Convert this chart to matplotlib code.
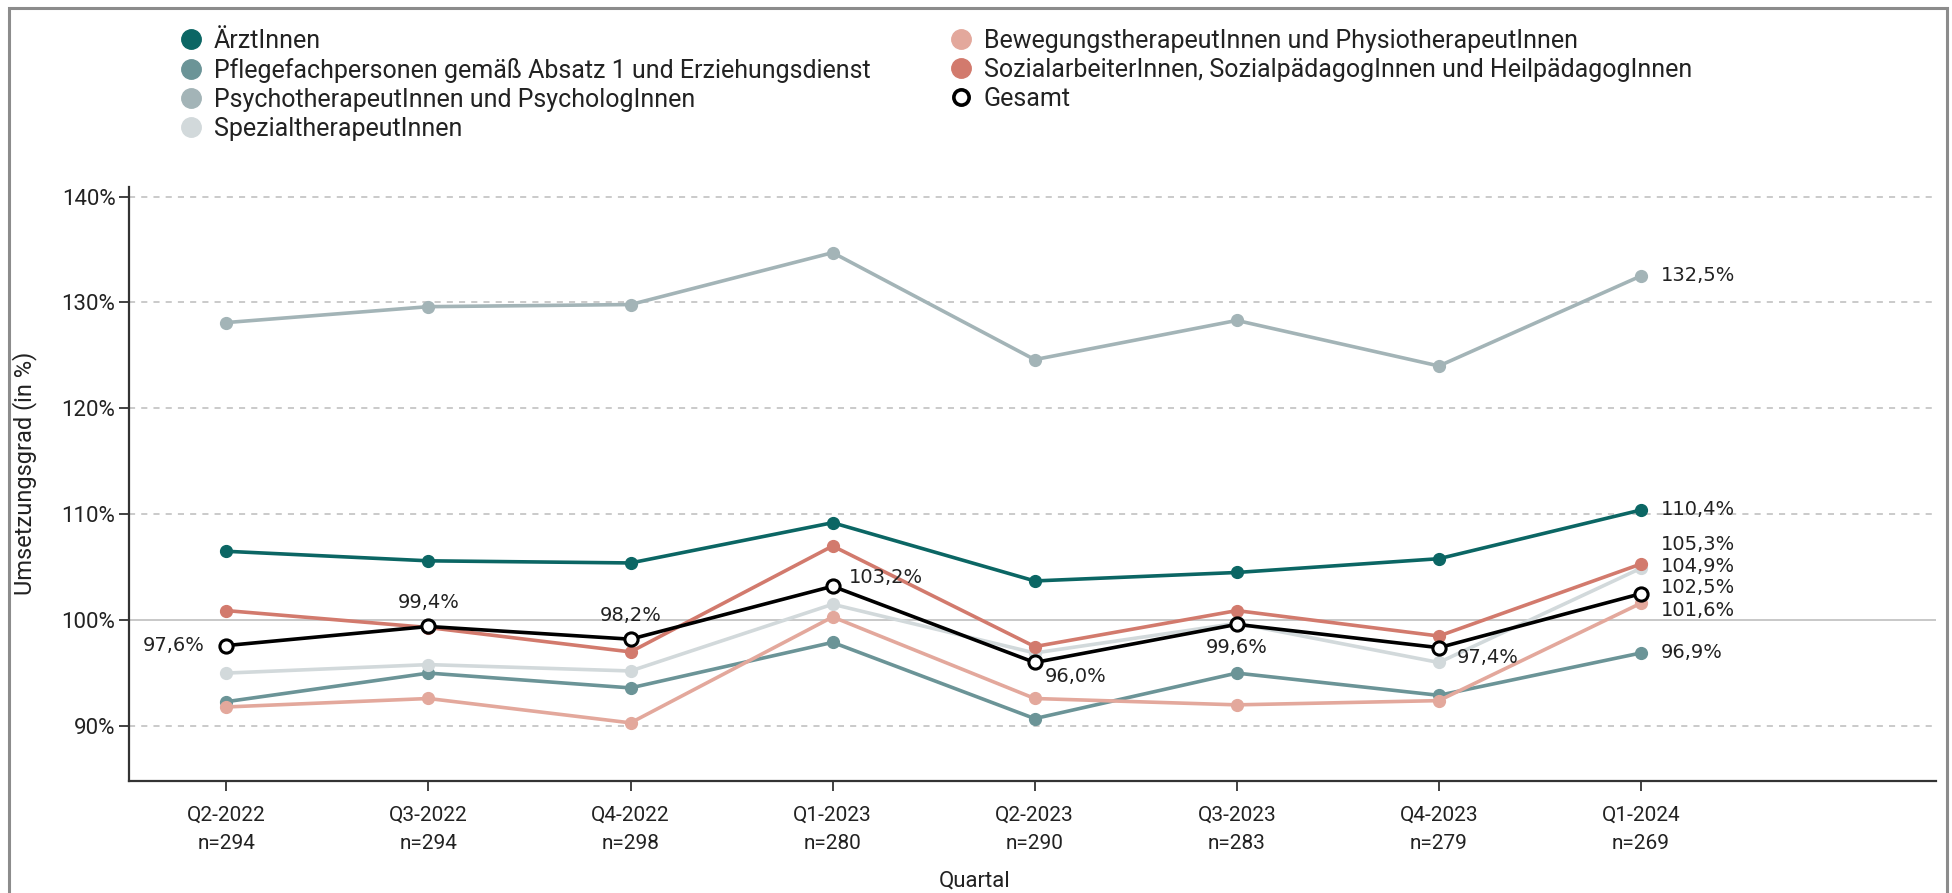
import matplotlib
matplotlib.use("Agg")
import matplotlib.pyplot as plt
from matplotlib.lines import Line2D
from matplotlib.patches import Rectangle

# --- data -------------------------------------------------------------
quarters = ["Q2-2022", "Q3-2022", "Q4-2022", "Q1-2023",
            "Q2-2023", "Q3-2023", "Q4-2023", "Q1-2024"]
n_values = [294, 294, 298, 280, 290, 283, 279, 269]

aerzte = [106.5, 105.6, 105.4, 109.2, 103.7, 104.5, 105.8, 110.4]
pflege = [92.3, 95.0, 93.6, 97.9, 90.7, 95.0, 92.9, 96.9]
psycho = [128.1, 129.6, 129.8, 134.7, 124.6, 128.3, 124.0, 132.5]
spezial = [95.0, 95.8, 95.2, 101.5, 96.9, 99.7, 96.0, 104.9]
bewegung = [91.8, 92.6, 90.3, 100.3, 92.6, 92.0, 92.4, 101.6]
sozial = [100.9, 99.3, 97.0, 107.0, 97.5, 100.9, 98.5, 105.3]
gesamt = [97.6, 99.4, 98.2, 103.2, 96.0, 99.6, 97.4, 102.5]

series_names = [
    "ÄrztInnen",
    "Pflegefachpersonen gemäß Absatz 1 und Erziehungsdienst",
    "PsychotherapeutInnen und PsychologInnen",
    "SpezialtherapeutInnen",
    "BewegungstherapeutInnen und PhysiotherapeutInnen",
    "SozialarbeiterInnen, SozialpädagogInnen und HeilpädagogInnen",
]
series_values = [aerzte, pflege, psycho, spezial, bewegung, sozial]
series_colors = ["#0b6664", "#6b9497", "#a3b4b7", "#d2d9db", "#e3a89c", "#d27a6d"]

y_ticks = [90, 100, 110, 120, 130, 140]

# --- styling ----------------------------------------------------------
AX_FONT = "Roboto"
LABEL_FONT = "DejaVu Sans"
TEXT_COLOR = "#222222"


def pct(v):
    return f"{v:.1f}".replace(".", ",") + "%"


fig = plt.figure(figsize=(19.52, 8.93), dpi=100)
ax = fig.add_axes([0.0663, 0.1259, 0.9255, 0.6647])

x = list(range(len(quarters)))

# horizontal grid and the 100 % reference line
for t in y_ticks:
    if t == 100:
        ax.axhline(t, color="#c4c4c4", lw=1.3, zorder=0)
    else:
        ax.axhline(t, color="#bcbcbc", lw=1.1, ls=(0, (4, 4)), zorder=0)

handles = []
for name, vals, col in zip(series_names, series_values, series_colors):
    ax.plot(x, vals, color=col, lw=2.6, marker="o", ms=8.5,
            markeredgecolor=col, zorder=2)
    handles.append(Line2D([], [], ls="none", marker="o", ms=14,
                          color=col, markeredgecolor=col, label=name))

ax.plot(x, gesamt, color="black", lw=2.6, marker="o", ms=9.5,
        markerfacecolor="white", markeredgecolor="black",
        markeredgewidth=2.2, zorder=4)
handles.append(Line2D([], [], ls="none", marker="o", ms=11,
                      markerfacecolor="white", markeredgecolor="black",
                      markeredgewidth=2.6, label="Gesamt"))

# value labels at the last quarter (offsets in points)
end_offsets = [0, 0, 0, 1.5, -5, 14]
for vals, dy in zip(series_values, end_offsets):
    ax.annotate(pct(vals[-1]), (x[-1], vals[-1]), xytext=(14, dy),
                textcoords="offset points", ha="left", va="center",
                fontsize=14, family=LABEL_FONT, color=TEXT_COLOR, zorder=5)

# value labels for the overall series
gesamt_label_pos = [
    ((-16, 0), "right", "center"),
    ((0, 17), "center", "center"),
    ((0, 17), "center", "center"),
    ((12, 6), "left", "center"),
    ((7, -10), "left", "center"),
    ((0, -17), "center", "center"),
    ((13, -7), "left", "center"),
    ((14, 4.5), "left", "center"),
]
for xi, v, (off, ha, va) in zip(x, gesamt, gesamt_label_pos):
    ax.annotate(pct(v), (xi, v), xytext=off, textcoords="offset points",
                ha=ha, va=va, fontsize=14, family=LABEL_FONT,
                color=TEXT_COLOR, zorder=5)

# axes
ax.set_xlim(-0.48, 8.46)
ax.set_ylim(84.85, 140.9)
ax.set_yticks(y_ticks)
ax.set_yticklabels([f"{t}%" for t in y_ticks])
ax.set_xticks(x)
ax.set_xticklabels([f"{q}\nn={n}" for q, n in zip(quarters, n_values)],
                   linespacing=1.6)
for sp in ["top", "right"]:
    ax.spines[sp].set_visible(False)
for sp in ["left", "bottom"]:
    ax.spines[sp].set_color("#333333")
    ax.spines[sp].set_linewidth(1.6)
ax.tick_params(axis="both", colors="#333333", width=1.3, length=7,
               labelcolor=TEXT_COLOR)
ax.tick_params(axis="x", labelsize=15, pad=11)
ax.tick_params(axis="y", labelsize=16, pad=3)
for lab in ax.get_xticklabels() + ax.get_yticklabels():
    lab.set_family(AX_FONT)

fig.text(0.0128, 0.47, "Umsetzungsgrad (in %)", rotation=90,
         ha="center", va="center", fontsize=17, family=AX_FONT,
         color=TEXT_COLOR)
fig.text(0.4995, 0.0135, "Quartal", ha="center", va="center",
         fontsize=16, family=AX_FONT, color=TEXT_COLOR)

# legend in two columns
leg_kw = dict(frameon=False, loc="upper left", borderaxespad=0,
              borderpad=0, handlelength=0.8, handletextpad=0.5,
              labelspacing=0.2, prop={"family": AX_FONT, "size": 18},
              labelcolor=TEXT_COLOR)
fig.legend(handles=handles[:4], bbox_to_anchor=(0.0929, 0.968), **leg_kw)
fig.legend(handles=handles[4:], bbox_to_anchor=(0.4873, 0.968), **leg_kw)

# outer frame
fig.patches.append(Rectangle((0.0045, -0.05), 0.993, 1.041,
                             transform=fig.transFigure, fill=False,
                             edgecolor="#8c8c8c", lw=2.2))

fig.savefig("out.png", dpi=100)
